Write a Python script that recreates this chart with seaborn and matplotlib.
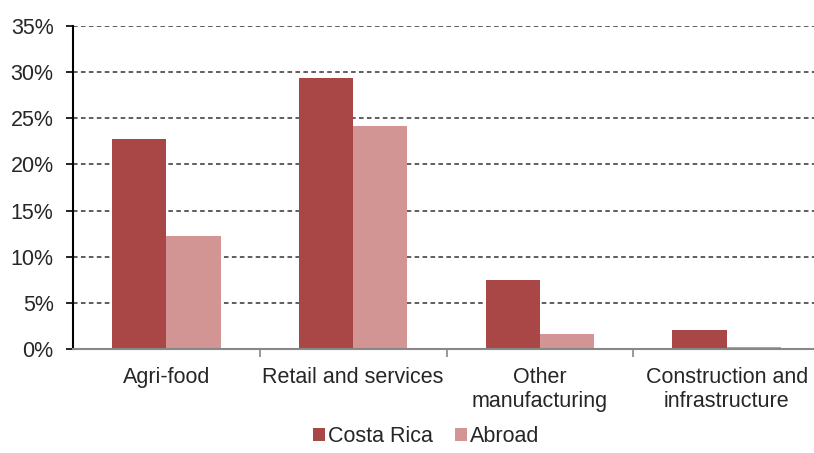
import matplotlib
matplotlib.use("Agg")
import matplotlib.pyplot as plt
import seaborn as sns
import pandas as pd
from matplotlib.ticker import FixedLocator, PercentFormatter

categories = ["Agri-food", "Retail and services", "Other\nmanufacturing", "Construction and\ninfrastructure"]
costa_rica = [22.8, 29.4, 7.5, 2.1]
abroad = [12.2, 24.2, 1.6, 0.2]
series_names = ["Costa Rica", "Abroad"]
colors = ["#A84745", "#D39494"]

df = pd.DataFrame({
    "category": categories * 2,
    "value": costa_rica + abroad,
    "series": [series_names[0]] * 4 + [series_names[1]] * 4,
})

sns.set_style("white")
plt.rcParams["font.family"] = ["Liberation Sans", "DejaVu Sans"]

fig = plt.figure(figsize=(8.14, 4.53), dpi=100)
ax = fig.add_axes([73 / 814, 1 - 349 / 453, (820 - 73) / 814, (349 - 26) / 453])

sns.barplot(data=df, x="category", y="value", hue="series", palette=colors,
            width=0.58, ax=ax, saturation=1, edgecolor="none", linewidth=0)

ax.set_ylim(0, 35)
ax.set_xlim(-0.5, 3.5)
ax.set_yticks(range(0, 36, 5))
ax.yaxis.set_major_formatter(PercentFormatter(decimals=0))
ax.yaxis.grid(True, linestyle=(0, (3, 2.2)), color="#333333", linewidth=1.1)
ax.set_axisbelow(True)
ax.set_xlabel("")
ax.set_ylabel("")

for s in ["top", "right"]:
    ax.spines[s].set_visible(False)
ax.spines["left"].set_color("black")
ax.spines["left"].set_linewidth(1.5)
ax.spines["bottom"].set_color("#888888")
ax.spines["bottom"].set_linewidth(1.5)

ax.tick_params(axis="y", which="major", length=5, width=1.2, color="black",
               direction="out", labelsize=15.5, pad=9, left=True)
ax.tick_params(axis="x", which="major", length=0, labelsize=15.5, pad=13)
ax.xaxis.set_minor_locator(FixedLocator([0.5, 1.5, 2.5]))
ax.tick_params(axis="x", which="minor", length=6, width=1.2, color="#888888",
               direction="out", bottom=True)

ax.legend(loc="lower center", bbox_to_anchor=(0.473, -0.35), ncol=2, frameon=False,
          fontsize=15.5, handlelength=0.55, handleheight=0.55, handletextpad=0.15,
          columnspacing=1.0, title=None, borderaxespad=0.3)

fig.savefig("out.png", dpi=100)
